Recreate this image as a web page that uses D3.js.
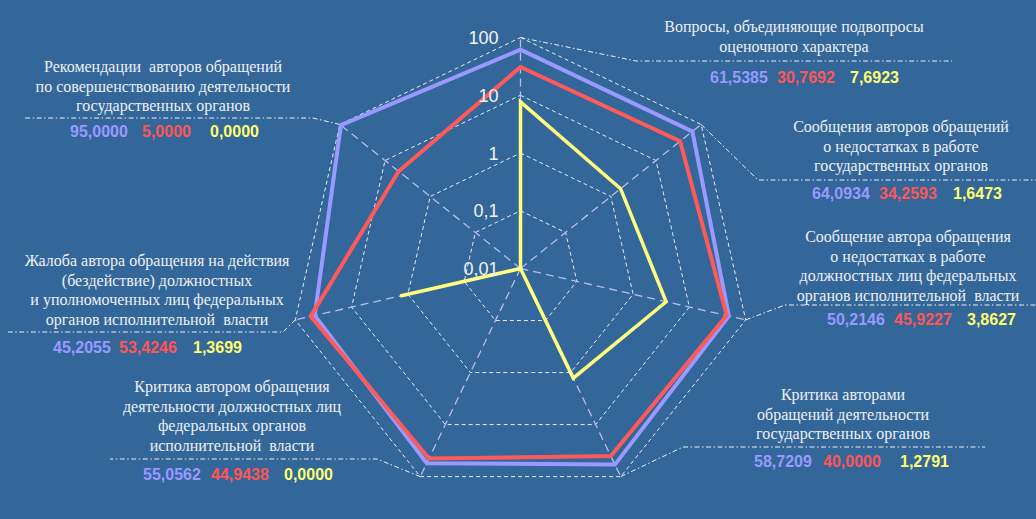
<!DOCTYPE html>
<html>
<head>
<meta charset="utf-8">
<script src="https://cdn.jsdelivr.net/npm/d3@7"></script>
<style>
  html, body { margin: 0; padding: 0; background: #336699; }
  svg { display: block; }
  .cap { font-family: "Liberation Serif", "Times New Roman", serif; font-size: 16px; fill: #eef0f6; white-space: pre; }
  .num { font-family: "Liberation Sans", Arial, sans-serif; font-size: 16px; font-weight: bold; }
  .tick { font-family: "Liberation Sans", Arial, sans-serif; font-size: 18px; fill: #f2f2f2; }
</style>
</head>
<body>
<svg id="chart" width="1036" height="519"></svg>
<script>
// categories (clockwise from the top)
var categories = [
  ["Вопросы, объединяющие подвопросы", "оценочного характера"],
  ["Сообщения авторов обращений", "о недостатках в работе", "государственных органов"],
  ["Сообщение автора обращения", "о недостатках в работе", "должностных лиц федеральных", "органов исполнительной  власти"],
  ["Критика авторами", "обращений деятельности", "государственных органов"],
  ["Критика автором обращения", "деятельности должностных лиц", "федеральных органов", "исполнительной  власти"],
  ["Жалоба автора обращения на действия", "(бездействие) должностных", "и уполномоченных лиц федеральных", "органов исполнительной  власти"],
  ["Рекомендации  авторов обращений", "по совершенствованию деятельности", "государственных органов"]
];
var seriesA = [61.5385, 64.0934, 50.2146, 58.7209, 55.0562, 45.2055, 95.0000];
var seriesB = [30.7692, 34.2593, 45.9227, 40.0000, 44.9438, 53.4246, 5.0000];
var seriesC = [7.6923, 1.6473, 3.8627, 1.2791, 0.0000, 1.3699, 0.0000];
var tickValues = [0.01, 0.1, 1, 10, 100];
var tickLabels = ["0,01", "0,1", "1", "10", "100"];

var colors = ["#9999ff", "#ff5a5a", "#ffff80"];
var numColors = ["#9999ff", "#ff5555", "#ffff70"];

// label layout: caption centre x, first baseline, number start x's, number baseline, leader elbow + end
var layout = [
  {cx: 794, y: 32,  nx: [710, 777, 850], ny: 83,  elbow: [636, 61],  end: [952, 61]},
  {cx: 901, y: 132, nx: [812, 879, 953], ny: 199, elbow: [758, 180], end: [1036, 180]},
  {cx: 908, y: 242, nx: [827, 894, 967], ny: 325, elbow: [785, 305], end: [1036, 305]},
  {cx: 843, y: 400, nx: [754, 823, 900], ny: 467, elbow: [683, 447], end: [985, 447]},
  {cx: 232, y: 392, nx: [143, 211, 284], ny: 480, elbow: [377, 459], end: [110, 459]},
  {cx: 157, y: 266, nx: [53, 119, 193],  ny: 353, elbow: [283, 332], end: [8, 332]},
  {cx: 163, y: 72,  nx: [70, 142, 210],  ny: 137, elbow: [313, 118], end: [25, 118]}
];

var svg = d3.select("#chart"),
    cx = 520.5, cy = 268.5, R = 231;

var r = d3.scaleLog().domain([0.01, 100]).range([0, R]);
var n = categories.length;
var angle = d3.scaleLinear().domain([0, n]).range([0, 2 * Math.PI]);

function pt(i, v) {
  var a = angle(i), rr = r(Math.max(v, 0.01));
  return [cx + rr * Math.sin(a), cy - rr * Math.cos(a)];
}

var fmt = function(v) { return d3.format(".4f")(v).replace(".", ","); };

var g = svg.append("g");

// rings
tickValues.slice(1).forEach(function(t) {
  g.append("polygon")
    .attr("points", d3.range(n).map(function(i) { return pt(i, t).join(","); }).join(" "))
    .attr("fill", "none")
    .attr("stroke", "#e8ecf4")
    .attr("stroke-width", 1)
    .attr("stroke-dasharray", "4,3");
});

// radial axes
d3.range(n).forEach(function(i) {
  var p = pt(i, 100);
  g.append("line")
    .attr("x1", cx).attr("y1", cy)
    .attr("x2", p[0]).attr("y2", p[1])
    .attr("stroke", "#b8bcf2")
    .attr("stroke-width", 1.3)
    .attr("stroke-dasharray", "8,5");
});

// leader lines
layout.forEach(function(l, i) {
  var p = pt(i, 100);
  g.append("polyline")
    .attr("points", [p, l.elbow, l.end].map(function(q) { return q.join(","); }).join(" "))
    .attr("fill", "none")
    .attr("stroke", "#eef0f6")
    .attr("stroke-width", 1)
    .attr("stroke-dasharray", "5,2.5,1.5,2.5");
});

// series
var line = d3.line().curve(d3.curveLinearClosed);
[seriesA, seriesB, seriesC].forEach(function(s, k) {
  g.append("path")
    .attr("d", line(s.map(function(v, i) { return pt(i, v); })))
    .attr("fill", "none")
    .attr("stroke", colors[k])
    .attr("stroke-width", k == 2 ? 3.5 : 4)
    .attr("stroke-linejoin", "miter");
});

// tick labels
tickValues.forEach(function(t, i) {
  g.append("text")
    .attr("class", "tick")
    .attr("x", cx - 22)
    .attr("y", cy - r(t) + 6.5)
    .attr("text-anchor", "end")
    .text(tickLabels[i]);
});

// captions and values
categories.forEach(function(lines, i) {
  var l = layout[i];
  var t = g.append("text").attr("class", "cap").attr("text-anchor", "middle");
  lines.forEach(function(s, j) {
    t.append("tspan").attr("x", l.cx).attr("y", l.y + j * 19.5).text(s);
  });
  [seriesA, seriesB, seriesC].forEach(function(s, k) {
    g.append("text")
      .attr("class", "num")
      .attr("x", l.nx[k])
      .attr("y", l.ny)
      .attr("fill", numColors[k])
      .text(fmt(s[i]));
  });
});
</script>
</body>
</html>
